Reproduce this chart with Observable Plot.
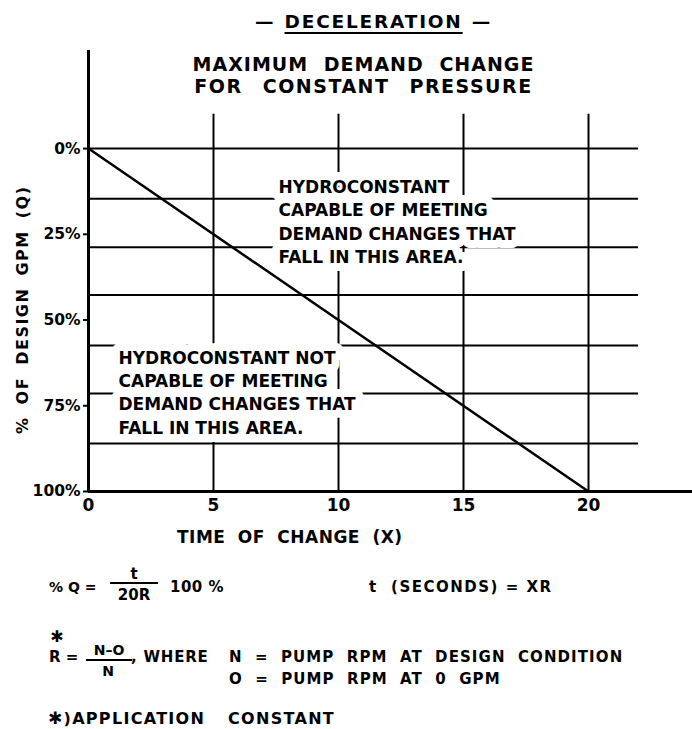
<!DOCTYPE html>
<html>
<head>
<meta charset="utf-8">
<script src="https://cdn.jsdelivr.net/npm/d3@7"></script>
<script src="https://cdn.jsdelivr.net/npm/@observablehq/plot@0.6"></script>
<style>
  body { margin: 0; background: #fff; }
  #wrap { position: relative; width: 692px; height: 729px; overflow: hidden;
          font-family: "DejaVu Sans", sans-serif; font-weight: bold; color: #000; }
  .t { position: absolute; white-space: pre; line-height: 1; }
  .bar { position: absolute; height: 0; border-top: 2px solid #000; }
  .star { font-family: "DejaVu Sans", sans-serif; font-weight: bold; }
  #chart { position: absolute; left: 0; top: 40px; }
</style>
</head>
<body>
<div id="wrap"></div>
<script>
// ---- data ----
const timeTicks = [0, 5, 10, 15, 20];                 // x tick labels (seconds, X)
const pctTicks = [0, 25, 50, 75, 100];                // y tick labels (% of design GPM)
const gridPct = [0, 14.6, 28.8, 42.7, 57.4, 71.4, 86.0]; // horizontal grid lines
const gridTime = [5, 10, 15, 20];                     // vertical grid lines
const boundaryTime = [0, 20];                         // max demand-change line
const boundaryPct = [0, 100];
const noteTime = [7.6, 1.2];
const notePct = [21, 70.8];
const noteText = [
  "HYDROCONSTANT\nCAPABLE OF MEETING\nDEMAND CHANGES THAT\nFALL IN THIS AREA.",
  "HYDROCONSTANT NOT\nCAPABLE OF MEETING\nDEMAND CHANGES THAT\nFALL IN THIS AREA."
];
const chartTitle = "MAXIMUM DEMAND CHANGE\nFOR CONSTANT PRESSURE";
const xLabel = "TIME OF CHANGE (X)";
const yLabel = "% OF DESIGN GPM (Q)";

const boundary = boundaryTime.map((t, i) => ({t, p: boundaryPct[i]}));
const notes = noteText.map((s, i) => ({t: noteTime[i], p: notePct[i], s}));

const ink = "#000";
const chart = Plot.plot({
  width: 692,
  height: 520,
  marginLeft: 88,
  marginRight: 54,
  marginTop: 10,
  marginBottom: 69,
  style: {fontFamily: '"DejaVu Sans", sans-serif', fontWeight: "bold", color: ink, background: "#fff"},
  x: {domain: [0, 22], axis: null},
  y: {domain: [-28.6, 100], reverse: true, axis: null},
  marks: [
    Plot.ruleY(gridPct, {x1: 0, x2: 22, stroke: ink, strokeWidth: 2}),
    Plot.ruleX(gridTime, {y1: -10, y2: 100, stroke: ink, strokeWidth: 2}),
    Plot.text(notes, {x: "t", y: "p", text: "s", textAnchor: "start", lineAnchor: "middle",
      lineHeight: 1.37, fontSize: 17, fill: ink, stroke: "#fff", strokeWidth: 16}),
    Plot.line(boundary, {x: "t", y: "p", stroke: ink, strokeWidth: 2.5}),
    Plot.ruleX([0], {stroke: ink, strokeWidth: 3}),
    Plot.ruleY([100], {x1: 0, x2: 24.5, stroke: ink, strokeWidth: 3}),
    Plot.axisY(pctTicks, {tickSize: 5, tickPadding: 3, tickFormat: d => d + "%", fontSize: 15.5,
      stroke: ink, strokeWidth: 2, label: null}),
    Plot.axisX(timeTicks, {tickSize: 0, tickPadding: 7, fontSize: 17, label: null}),
    Plot.text([chartTitle], {x: [11], y: [-21.6], lineHeight: 1.16, fontSize: 19, fill: ink}),
    Plot.text([xLabel], {x: [8.05], frameAnchor: "bottom", lineAnchor: "middle", textAnchor: "middle",
      dy: 46, fontSize: 17, fill: ink}),
    Plot.text([yLabel], {y: [47], frameAnchor: "left", textAnchor: "middle", lineAnchor: "middle",
      dx: -66, rotate: -90, fontSize: 16, fill: ink})
  ]
});
chart.id = "chart";
const wrap = document.getElementById("wrap");
wrap.appendChild(chart);

// letter / word spacing of the hand lettering
for (const el of chart.querySelectorAll("text")) {
  const s = el.textContent;
  if (s.startsWith("MAXIMUM")) {
    const ts = el.querySelectorAll("tspan");
    if (ts.length === 2) {
      Object.assign(ts[0].style, {letterSpacing: "1px", wordSpacing: "8px"});
      Object.assign(ts[1].style, {letterSpacing: "1.5px", wordSpacing: "12px"});
    } else Object.assign(el.style, {letterSpacing: "1px", wordSpacing: "8px"});
  } else if (s.startsWith("TIME OF")) {
    Object.assign(el.style, {letterSpacing: "0.5px", wordSpacing: "6px"});
  } else if (s.startsWith("% OF")) {
    Object.assign(el.style, {letterSpacing: "1.5px", wordSpacing: "5px"});
  }
}

// ---- header and footer captions (HTML) ----
function place(html, left, cy, fs, extra) {
  const d = document.createElement("div");
  d.className = "t";
  d.innerHTML = html;
  d.style.left = left + "px";
  d.style.top = (cy - 0.48 * fs) + "px";
  d.style.fontSize = fs + "px";
  if (extra) Object.assign(d.style, extra);
  wrap.appendChild(d);
  return d;
}
function centered(html, cx, cy, fs, extra) {
  const d = place(html, cx, cy, fs, extra);
  d.style.transform = "translateX(-50%)";
  return d;
}
function bar(x1, x2, y) {
  const d = document.createElement("div");
  d.className = "bar";
  d.style.left = x1 + "px";
  d.style.width = (x2 - x1) + "px";
  d.style.top = (y - 1) + "px";
  wrap.appendChild(d);
}

place('— <span style="text-decoration:underline;text-decoration-thickness:2px;text-underline-offset:4px">DECELERATION</span> —',
  255, 22, 18.5, {letterSpacing: "1.8px", wordSpacing: "1px"});

// % Q = t / 20R 100 %
place("% Q =", 49, 587, 14);
centered("t", 134, 574, 15);
bar(110, 158, 583);
centered("20R", 134, 595, 15);
place("100 %", 170, 587, 15, {letterSpacing: "0.5px"});
place("t  (SECONDS) = XR", 369, 587, 15, {letterSpacing: "1.5px"});

// R = (N-O)/N, WHERE ...
centered('<span class="star">✱</span>', 57, 637, 16);
place("R =", 49, 657, 15);
centered("N–O", 109, 650, 14);
bar(86, 132, 660);
centered("N", 108, 671, 14);
place(", WHERE", 131, 657, 15, {letterSpacing: "0.8px"});
place("N = PUMP RPM AT DESIGN CONDITION", 229, 657, 15, {letterSpacing: "1.1px", wordSpacing: "6px"});
place("O = PUMP RPM AT 0 GPM", 229, 679, 15, {letterSpacing: "1.1px", wordSpacing: "6px"});

place('<span class="star" style="font-size:17px">✱</span>)APPLICATION CONSTANT', 48, 718, 16,
  {letterSpacing: "1.3px", wordSpacing: "16px"});
</script>
</body>
</html>
